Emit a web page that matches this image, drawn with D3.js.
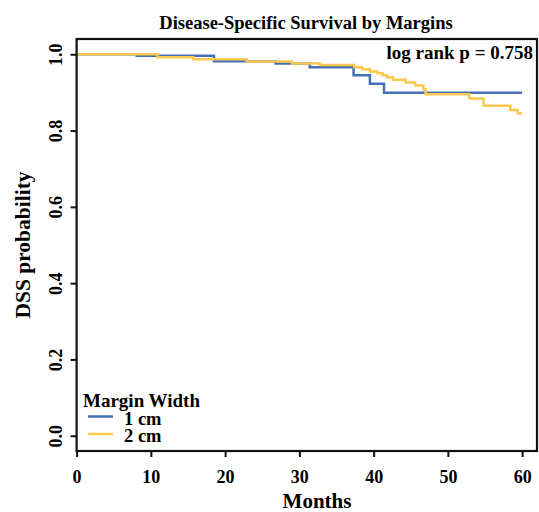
<!DOCTYPE html>
<html>
<head>
<meta charset="utf-8">
<script src="https://cdn.jsdelivr.net/npm/d3@7"></script>
<style>
  body { margin: 0; background: #fff; }
  text { font-family: "Liberation Serif", "Times New Roman", serif; font-weight: bold; fill: #000; }
</style>
</head>
<body>
<svg width="539" height="512"></svg>
<script>
// Step points: month at which survival drops, value after the drop
var times1 = [0, 8.1, 18.5, 26.8, 31.4, 37.3, 39.5, 41.4];
var surv1  = [1.0, 0.996, 0.982, 0.976, 0.966, 0.945, 0.923, 0.899];

var times2 = [0, 10.9, 15.7, 22.9, 29.0, 32.8, 37.4, 38.5, 39.5, 40.5, 41.2, 41.8, 42.6, 44.3, 45.6, 46.7, 47.0, 52.9, 54.8, 58.4, 59.4];
var surv2  = [1.0, 0.992, 0.987, 0.981, 0.976, 0.972, 0.966, 0.961, 0.955, 0.950, 0.945, 0.940, 0.933, 0.926, 0.918, 0.908, 0.895, 0.884, 0.865, 0.854, 0.845];

var endTime = 60;
var groups = ["1 cm", "2 cm"];
var colors = ["#4570b8", "#fcc850"];
var xTicks = [0, 10, 20, 30, 40, 50, 60];
var yTicks = [0, 0.2, 0.4, 0.6, 0.8, 1.0];

var svg = d3.select("svg");

var x = d3.scaleLinear().domain([0, 62]).range([76.6, 537]);
var y = d3.scaleLinear().domain([-0.04, 1.04]).range([451, 39]);

// curves
var line = d3.line()
    .x(d => x(d[0]))
    .y(d => y(d[1]))
    .curve(d3.curveStepAfter);

function pts(t, s) {
    var p = t.map((d, i) => [d, s[i]]);
    p.push([endTime, s[s.length - 1]]);
    return p;
}

var series = [pts(times1, surv1), pts(times2, surv2)];

svg.append("g")
    .selectAll("path")
    .data(series)
    .enter().append("path")
    .attr("d", line)
    .style("fill", "none")
    .style("stroke", (d, i) => colors[i])
    .style("stroke-width", 2.5);

// frame
svg.append("rect")
    .attr("x", x(0))
    .attr("y", y(1.04))
    .attr("width", x(62) - x(0))
    .attr("height", y(-0.04) - y(1.04))
    .style("fill", "none")
    .style("stroke", "#111")
    .style("stroke-width", 2.2);

// axes
var xAxis = svg.append("g")
    .attr("transform", "translate(0," + y(-0.04) + ")")
    .call(d3.axisBottom(x).tickValues(xTicks).tickSize(6).tickPadding(13).tickFormat(d3.format("d")));
xAxis.select(".domain").remove();
xAxis.selectAll("line").style("stroke", "#111").style("stroke-width", 2);
xAxis.selectAll("text").style("font-size", "18px");

var yAxis = svg.append("g")
    .attr("transform", "translate(" + x(0) + ",0)")
    .call(d3.axisLeft(y).tickValues(yTicks).tickSize(6).tickFormat(d3.format(".1f")));
yAxis.select(".domain").remove();
yAxis.selectAll("line").style("stroke", "#111").style("stroke-width", 2);
yAxis.selectAll("text")
    .style("font-size", "18px")
    .attr("x", null)
    .attr("dy", null)
    .attr("text-anchor", "middle")
    .attr("transform", "translate(-15,0) rotate(-90)");

// titles
svg.append("text")
    .attr("x", 306)
    .attr("y", 29)
    .attr("text-anchor", "middle")
    .style("font-size", "18.5px")
    .text("Disease-Specific Survival by Margins");

svg.append("text")
    .attr("x", 317)
    .attr("y", 508)
    .attr("text-anchor", "middle")
    .style("font-size", "21px")
    .text("Months");

svg.append("text")
    .attr("transform", "translate(30,245) rotate(-90)")
    .attr("text-anchor", "middle")
    .style("font-size", "21.5px")
    .text("DSS probability");

svg.append("text")
    .attr("x", 533)
    .attr("y", 59)
    .attr("text-anchor", "end")
    .style("font-size", "19px")
    .text("log rank p = 0.758");

// legend
var legend = svg.append("g").attr("transform", "translate(83,0)");
legend.append("text")
    .attr("x", 0)
    .attr("y", 407)
    .style("font-size", "19px")
    .text("Margin Width");

var items = legend.selectAll("g.item")
    .data(groups)
    .enter().append("g")
    .attr("class", "item")
    .attr("transform", (d, i) => "translate(0," + (424.5 + i * 17.5) + ")");

items.append("line")
    .attr("x1", 5).attr("x2", 30)
    .attr("y1", -8).attr("y2", -8)
    .style("stroke", (d, i) => colors[i])
    .style("stroke-width", 2.5);

items.append("text")
    .attr("x", 41)
    .attr("y", 0)
    .style("font-size", "18.5px")
    .text(d => d);
</script>
</body>
</html>
